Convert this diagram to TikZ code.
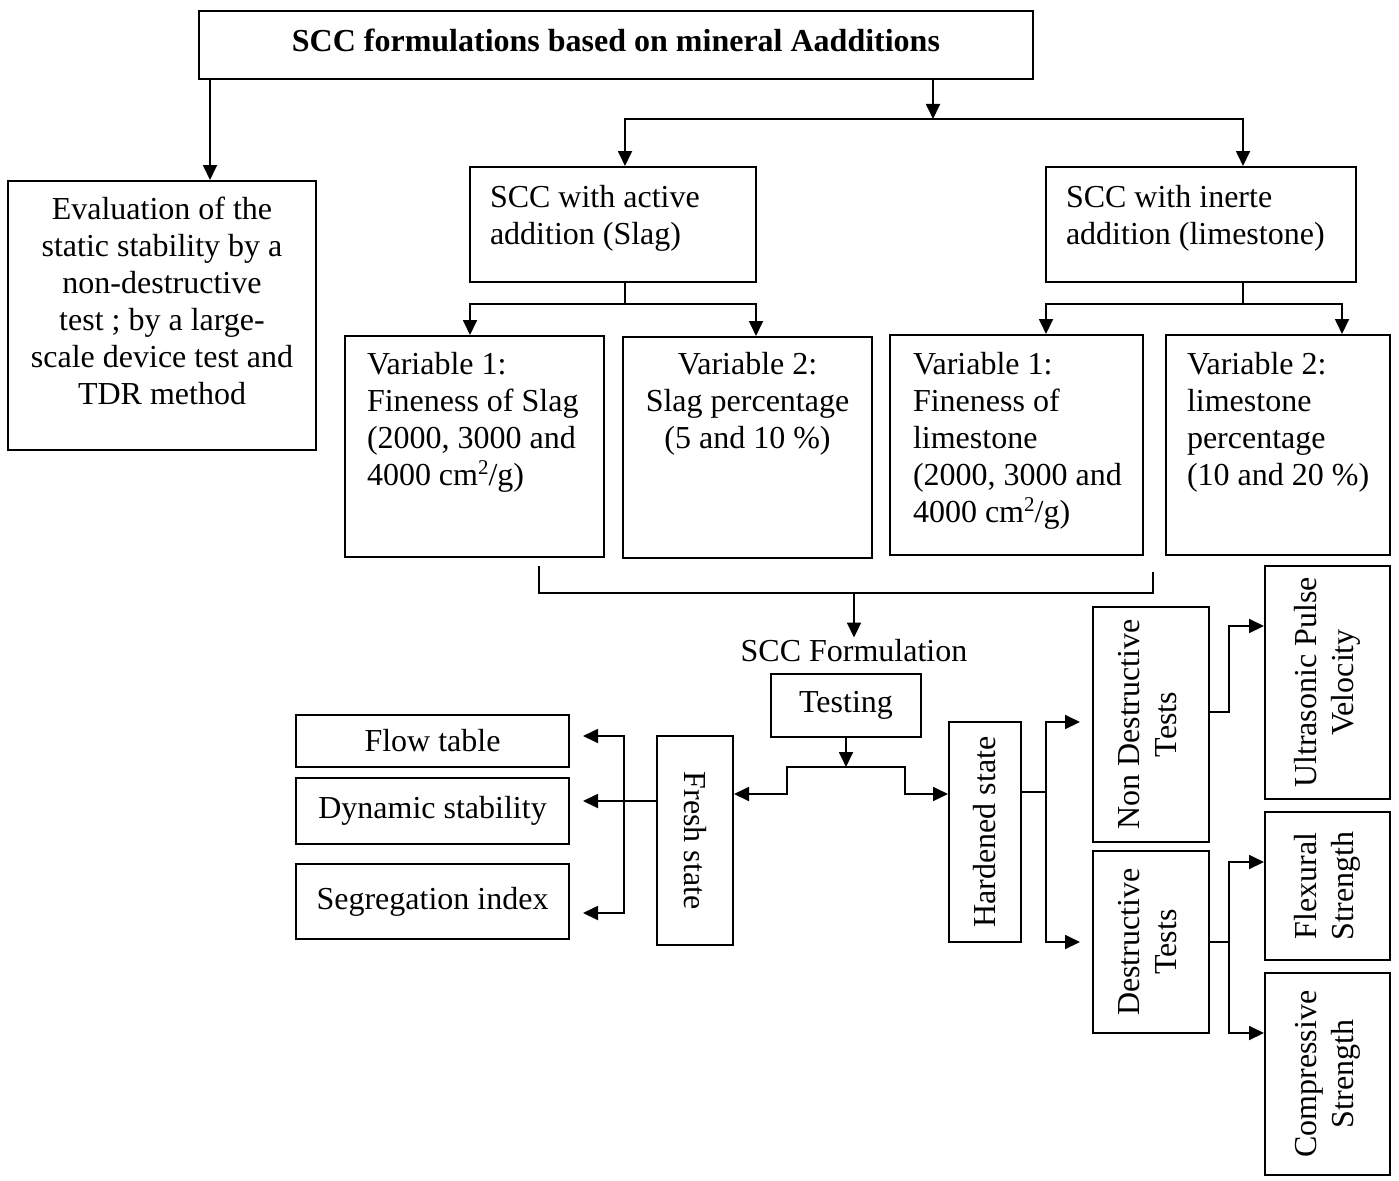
\documentclass[tikz,border=0pt]{standalone}
\usepackage{fontspec}
\setmainfont{Liberation Serif}
\usepackage{graphicx}
\usetikzlibrary{arrows.meta}
\newcommand\fs{\fontsize{32}{37}\selectfont}
\newcommand\sqr{\raisebox{11pt}{\fontsize{21}{21}\selectfont 2}}
\newcommand\boxL[5]{\parbox[c][#2pt][t]{#1pt}{\raggedright\leftskip=#3pt\relax\vspace*{#4pt}\strut #5}}
\newcommand\boxC[4]{\parbox[c][#2pt][t]{#1pt}{\centering\vspace*{#3pt}\strut #4}}
\begin{document}
\begin{tikzpicture}[x=1pt,y=-1pt,
  box/.style={draw, line width=2pt, inner sep=0pt, font=\fs},
  txt/.style={inner sep=2pt, font=\fs},
  ln/.style={line width=1.8pt},
  arr/.style={line width=1.8pt, -{Triangle[length=15pt,width=14pt]}},
  arrtwo/.style={line width=1.8pt, {Triangle[length=15pt,width=14pt]}-{Triangle[length=15pt,width=14pt]}}]
\fill[white] (0,0) rectangle (1399,1180);
\useasboundingbox (0,0) rectangle (1399,1180);

% boxes
\node[box] (title) at (616,45) {\boxC{834}{68}{15}{\bfseries SCC formulations based on mineral Aadditions}};
\node[box] (eval) at (162,315.5) {\boxC{308}{269}{13}{Evaluation of the\\static stability by a\\non-destructive\\test ; by a large-\\scale device test and\\TDR method}};
\node[box] (active) at (613,224.5) {\boxL{286}{115}{20}{15}{SCC with active\\addition (Slag)}};
\node[box] (inerte) at (1201,224.5) {\boxL{310}{115}{20}{15}{SCC with inerte\\addition (limestone)}};
\node[box] (v1s) at (474.5,446.5) {\boxL{259}{221}{22}{13}{Variable 1:\\Fineness of Slag\\(2000, 3000 and\\4000 cm\sqr/g)}};
\node[box] (v2s) at (747.5,447.5) {\boxC{249}{221}{12}{Variable 2:\\Slag percentage\\(5 and 10 \%)}};
\node[box] (v1l) at (1016.5,445) {\boxL{253}{220}{23}{14}{Variable 1:\\Fineness of\\limestone\\(2000, 3000 and\\4000 cm\sqr/g)}};
\node[box] (v2l) at (1278,445) {\boxL{224}{220}{21}{14}{Variable 2:\\limestone\\percentage\\(10 and 20 \%)}};

\node[txt] (form) at (854,651) {SCC Formulation};
\node[box, minimum width=150pt, minimum height=63pt] (testing) at (846,705.5) {Testing};
\node[box, minimum width=273pt, minimum height=52pt] (flow) at (432.5,741) {Flow table};
\node[box, minimum width=273pt, minimum height=66pt] (dyn) at (432.5,811) {Dynamic stability};
\node[box, minimum width=273pt, minimum height=75pt] (seg) at (432.5,901.5) {Segregation index};
\node[box, minimum width=76pt, minimum height=209pt] (fresh) at (695,840.5) {\rotatebox{-90}{Fresh state}};
\node[box, minimum width=72pt, minimum height=220pt] (hard) at (985,832) {\rotatebox{90}{Hardened state}};
\node[box, minimum width=116pt, minimum height=235pt] (ndt) at (1151,724.5) {\rotatebox{90}{\begin{tabular}{@{}c@{}}Non Destructive\\Tests\end{tabular}}};
\node[box, minimum width=116pt, minimum height=182pt] (dt) at (1151,942) {\rotatebox{90}{\begin{tabular}{@{}c@{}}Destructive\\Tests\end{tabular}}};
\node[box, minimum width=125pt, minimum height=233pt] (usv) at (1327.5,682.5) {\rotatebox{90}{\begin{tabular}{@{}c@{}}Ultrasonic Pulse\\Velocity\end{tabular}}};
\node[box, minimum width=125pt, minimum height=148pt] (flex) at (1327.5,886) {\rotatebox{90}{\begin{tabular}{@{}c@{}}Flexural\\Strength\end{tabular}}};
\node[box, minimum width=125pt, minimum height=202pt] (comp) at (1327.5,1074) {\rotatebox{90}{\begin{tabular}{@{}c@{}}Compressive\\Strength\end{tabular}}};

% junction coordinates
\coordinate (cEv) at (210,0);
\coordinate (cT) at (933,0);
\coordinate (cA) at (625,119);
\coordinate (cI) at (1243,119);
\coordinate (cS1) at (470,304);
\coordinate (cS2) at (756,304);
\coordinate (cL1) at (1046,304);
\coordinate (cL2) at (1342,304);
\coordinate (b1) at (539,566);
\coordinate (b4) at (1153,572);
\coordinate (bm) at (854,593);
\coordinate (t1) at (846,767);
\coordinate (t2) at (787,767);
\coordinate (t3) at (905,767);
\coordinate (t4) at (787,794);
\coordinate (t5) at (905,794);
\coordinate (fx) at (583,0);
\coordinate (f1) at (624,801);
\coordinate (f2) at (624,736);
\coordinate (f3) at (624,913);
\coordinate (hx) at (1080,0);
\coordinate (h1) at (1046,792);
\coordinate (h2) at (1046,722);
\coordinate (h3) at (1046,942);
\coordinate (n1) at (1229,712);
\coordinate (n2) at (1229,626);
\coordinate (d1) at (1229,942);
\coordinate (d2) at (1229,862);
\coordinate (d3) at (1229,1033);

% connectors
\draw[arr] (title.south -| cEv) -- (eval.north -| cEv);
\draw[arr] (title.south -| cT) -- (cT |- cA);
\draw[arrtwo] (active.north -| cA) -- (cA) -- (cI) -- (inerte.north -| cI);
\draw[ln] (active.south -| cA) -- (cA |- cS1);
\draw[arrtwo] (v1s.north -| cS1) -- (cS1) -- (cS2) -- (v2s.north -| cS2);
\draw[ln] (inerte.south -| cI) -- (cI |- cL1);
\draw[arrtwo] (v1l.north -| cL1) -- (cL1) -- (cL2) -- (v2l.north -| cL2);
\draw[ln] (b1) -- (b1 |- bm) -- (b4 |- bm) -- (b4);
\draw[arr] (bm) -- (form.north);
\draw[arr] (testing.south -| t1) -- (t1);
\draw[arrtwo] (fresh.east |- t4) -- (t4) -- (t2) -- (t3) -- (t5) -- (hard.west |- t5);
\draw[arrtwo] (fx |- f2) -- (f2) -- (f3) -- (fx |- f3);
\draw[arr] (fresh.west |- f1) -- (fx |- f1);
\draw[arrtwo] (hx |- h2) -- (h2) -- (h3) -- (hx |- h3);
\draw[ln] (hard.east |- h1) -- (h1);
\draw[arr] (ndt.east |- n1) -- (n1) -- (n2) -- (usv.west |- n2);
\draw[arrtwo] (flex.west |- d2) -- (d2) -- (d3) -- (comp.west |- d3);
\draw[ln] (dt.east |- d1) -- (d1);
\end{tikzpicture}
\end{document}
